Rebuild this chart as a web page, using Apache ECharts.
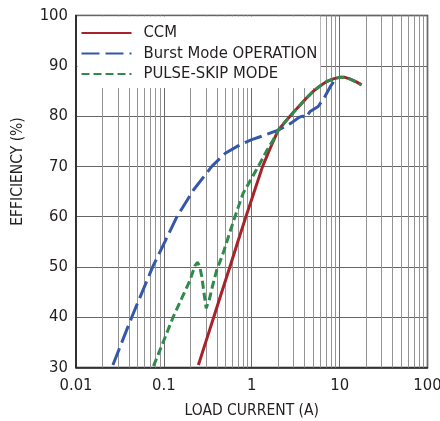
<!DOCTYPE html>
<html>
<head>
<meta charset="utf-8">
<style>
  html, body { margin: 0; padding: 0; background: #fff; }
  #chart { width: 440px; height: 421px; }
</style>
<script src="https://cdn.jsdelivr.net/npm/echarts@6/dist/echarts.min.js"></script>
</head>
<body>
<div id="chart"></div>
<script>
// Load current (A) / efficiency (%) pairs for each operating mode
const ccmCurrent = [0.247, 0.3, 0.366, 0.45, 0.566, 0.7, 0.855, 1.05, 1.33, 1.65, 2.0, 2.5, 3.0, 3.6, 4.2, 5.0, 6.0, 7.0, 8.45, 10, 11.5, 13, 15.5, 17.8];
const ccmEff     = [30.5, 35.1, 39.8, 44.7, 50.1, 55.2, 59.9, 64.6, 70.0, 73.9, 77.2, 79.2, 80.8, 82.3, 83.6, 84.9, 86.0, 86.8, 87.4, 87.7, 87.7, 87.4, 86.8, 86.2];

const burstCurrent = [0.0263, 0.0433, 0.075, 0.1, 0.14, 0.217, 0.351, 0.5, 0.736, 1.0, 1.4, 2.0, 2.8, 3.5, 3.8, 4.1, 4.6, 5.7, 6.8, 7.8, 8.85, 9.4];
const burstEff     = [30.5, 40.1, 50.1, 54.6, 59.9, 65.3, 70.0, 72.6, 74.3, 75.3, 76.2, 77.2, 78.6, 79.8, 80.0, 79.6, 80.9, 81.9, 83.9, 85.8, 87.2, 87.6];

const skipCurrent = [0.0762, 0.1, 0.128, 0.16, 0.199, 0.225, 0.241, 0.255, 0.27, 0.287, 0.303, 0.33, 0.36, 0.4, 0.47, 0.566, 0.68, 0.8, 1.0, 1.24, 1.5, 1.76, 2.0, 2.5, 3.0, 3.6, 4.2, 5.0, 6.0, 7.0, 8.45, 10, 11.5, 13, 15.5, 17.8];
const skipEff     = [30.3, 35.4, 40.1, 43.8, 47.4, 50.2, 50.9, 50.2, 48.1, 44.6, 41.8, 43.6, 46.4, 49.4, 52.6, 57.0, 61.2, 64.7, 67.7, 70.6, 73.3, 75.3, 77.2, 79.2, 80.8, 82.3, 83.6, 84.9, 86.0, 86.8, 87.4, 87.7, 87.7, 87.4, 86.8, 86.2];

const seriesNames = ['CCM', 'Burst Mode OPERATION', 'PULSE-SKIP MODE'];
const xTickLabels = { 0.01: '0.01', 0.1: '0.1', 1: '1', 10: '10', 100: '100' };
// Intermediate log gridlines (2..9 of each decade)
const minorGridValues = [];
[0.01, 0.1, 1, 10].forEach(function (d) {
  for (let k = 2; k <= 9; k++) minorGridValues.push(+(d * k).toPrecision(3));
});

function pairs(xs, ys) { return xs.map(function (x, i) { return [x, ys[i]]; }); }

const FONT = '"DejaVu Sans Condensed", "Liberation Sans Narrow", "Liberation Sans", Arial, sans-serif';
const TEXT = '#231f20';
const chart = echarts.init(document.getElementById('chart'));

chart.setOption({
  animation: false,
  backgroundColor: '#fff',
  grid: {
    left: 76, right: 12.5, top: 15.5, bottom: 53.5,
    containLabel: false, outerBoundsMode: 'none',
    show: true, borderColor: '#222', borderWidth: 1.5, backgroundColor: 'transparent', z: 0
  },
  legend: {
    data: seriesNames,
    left: 77.5, top: 16.5, orient: 'vertical',
    itemWidth: 50, itemHeight: 14, itemGap: 0.5,
    padding: [6.5, 3, 4, 3],
    backgroundColor: '#fff',
    itemStyle: { color: 'rgba(0,0,0,0)', borderWidth: 0 },
    textStyle: { fontFamily: FONT, fontSize: 16.5, lineHeight: 20, color: TEXT, padding: [0, 0, 0, 7] },
    z: 2
  },
  xAxis: {
    type: 'log', logBase: 10, min: 0.01, max: 100,
    name: 'LOAD CURRENT (A)', nameLocation: 'middle', nameGap: 35.5, nameMoveOverlap: false,
    nameTextStyle: { fontFamily: FONT, fontSize: 15.5, color: TEXT },
    axisLine: { show: true, lineStyle: { color: '#222', width: 1.5 } },
    axisTick: { show: false },
    axisLabel: {
      fontFamily: FONT, fontSize: 16.5, color: TEXT, margin: 10,
      formatter: function (v) { return xTickLabels[+v.toPrecision(3)] || ''; }
    },
    splitLine: { show: true, lineStyle: { color: '#6a6a6a', width: 1 } }
  },
  yAxis: {
    type: 'value', min: 30, max: 100, interval: 10,
    name: 'EFFICIENCY (%)', nameLocation: 'middle', nameGap: 50.5, nameMoveOverlap: false,
    nameTextStyle: { fontFamily: FONT, fontSize: 15.5, color: TEXT, padding: [0, 0, 0, 40] },
    axisLine: { show: true, lineStyle: { color: '#222', width: 1.5 } },
    axisTick: { show: false },
    axisLabel: { fontFamily: FONT, fontSize: 16.5, color: TEXT, margin: 8 },
    splitLine: { show: true, lineStyle: { color: '#666666', width: 1 } }
  },
  series: [
    {
      name: 'grid', type: 'line', data: [], silent: true, z: 1,
      markLine: {
        silent: true, symbol: 'none', label: { show: false }, z: 1,
        lineStyle: { color: '#939393', width: 1, type: 'solid' },
        data: minorGridValues.map(function (v) { return { xAxis: v }; })
      }
    },
    {
      name: seriesNames[0], type: 'line', data: pairs(ccmCurrent, ccmEff),
      showSymbol: false, symbol: 'none', z: 3,
      lineStyle: { color: '#a6232a', width: 3 }, itemStyle: { color: '#a6232a' }
    },
    {
      name: seriesNames[1], type: 'line', data: pairs(burstCurrent, burstEff),
      showSymbol: false, symbol: 'none', z: 4,
      lineStyle: { color: '#3457a8', width: 3, type: [18, 6] }, itemStyle: { color: '#3457a8' }
    },
    {
      name: seriesNames[2], type: 'line', data: pairs(skipCurrent, skipEff),
      showSymbol: false, symbol: 'none', z: 5,
      lineStyle: { color: '#2f8a4c', width: 3, type: [8, 4] }, itemStyle: { color: '#2f8a4c' }
    }
  ]
});
</script>
</body>
</html>
